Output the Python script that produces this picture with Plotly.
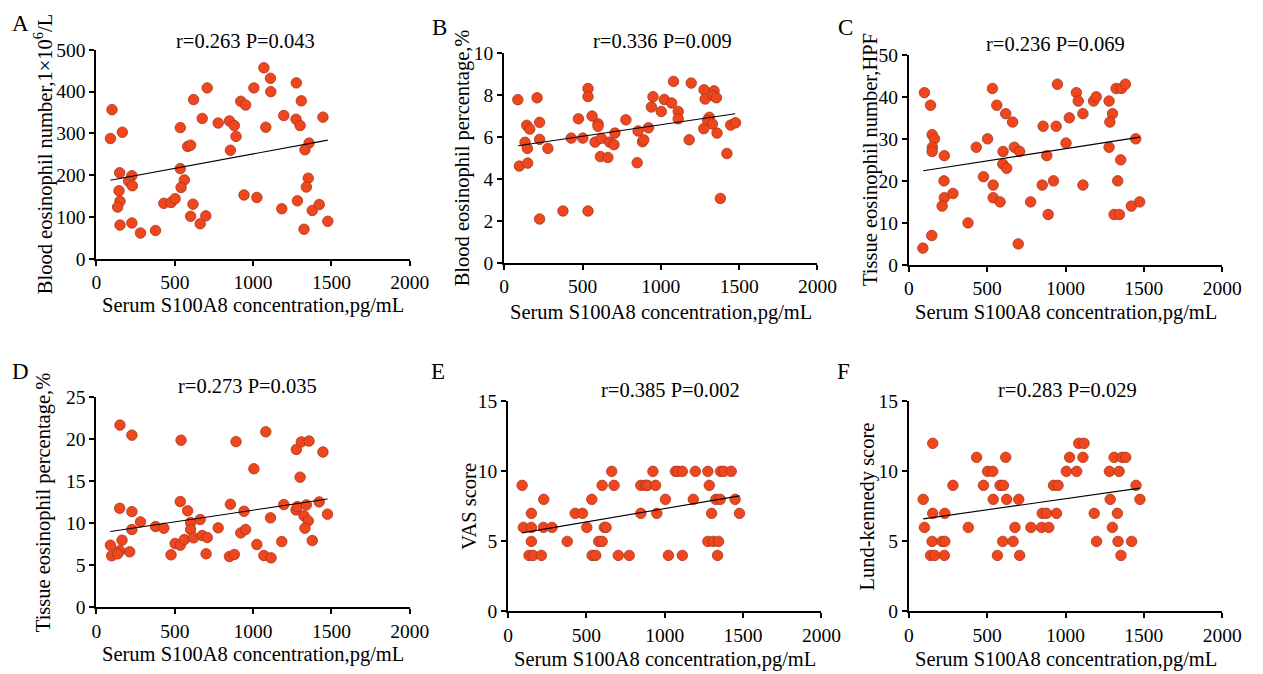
import plotly.graph_objects as go

# Panel A: blood eosinophil number
a_x = [99, 89, 165, 148, 144, 150, 135, 150, 226, 205, 229, 226, 281, 377, 430, 476, 502, 535, 535, 561,
       540, 582, 601, 620, 616, 601, 662, 675, 707, 698, 777, 849, 880, 891, 855, 921, 952, 942, 1005, 1024,
       1069, 1111, 1113, 1081, 1196, 1183, 1276, 1308, 1274, 1300, 1357, 1331, 1352, 1340, 1283, 1378, 1422,
       1325, 1446, 1477]
a_y = [357, 288, 303, 206, 163, 138, 124, 81, 199, 186, 175, 86, 62, 68, 133, 135, 144, 314, 216, 189,
       171, 269, 272, 381, 131, 102, 84, 336, 409, 103, 325, 330, 319, 293, 260, 377, 368, 153, 409, 147,
       457, 432, 400, 315, 343, 120, 421, 378, 334, 319, 277, 261, 193, 172, 139, 116, 130, 71, 339, 90]
a_fit_x = [89, 1477]
a_fit_y = [188, 284]

# Panel B: blood eosinophil percentage
b_x = [87, 97, 144, 163, 133, 148, 150, 210, 226, 226, 226, 279, 375, 428, 474, 502, 535, 535, 535, 561,
       580, 599, 599, 620, 614, 662, 673, 701, 707, 777, 849, 855, 883, 891, 921, 940, 950, 1003, 1022, 1069,
       1081, 1111, 1111, 1194, 1181, 1276, 1283, 1274, 1302, 1310, 1300, 1329, 1340, 1335, 1355, 1359, 1380,
       1422, 1446, 1477]
b_y = [7.77, 4.61, 6.55, 6.37, 5.74, 5.45, 4.75, 7.86, 6.69, 5.88, 2.09, 5.45, 2.47, 5.94, 6.86, 5.94,
       8.30, 7.92, 2.47, 6.99, 5.75, 6.62, 6.50, 5.93, 5.06, 5.02, 5.75, 5.63, 6.18, 6.81, 4.77, 6.28, 5.77,
       5.86, 6.43, 7.42, 7.91, 7.21, 7.78, 7.61, 8.64, 7.21, 6.86, 8.56, 5.86, 8.24, 7.80, 6.39, 6.83, 6.93,
       6.78, 6.61, 8.19, 7.96, 7.86, 6.18, 3.07, 5.21, 6.56, 6.67]
b_fit_x = [89, 1475]
b_fit_y = [5.58, 7.10]

# Panel C: tissue eosinophil number
c_x = [99, 89, 138, 148, 163, 150, 148, 146, 226, 224, 226, 212, 281, 377, 430, 476, 502, 533, 538, 538,
       561, 582, 601, 599, 618, 624, 662, 673, 707, 698, 777, 857, 851, 880, 889, 923, 940, 948, 1003, 1024,
       1069, 1081, 1111, 1111, 1179, 1196, 1278, 1300, 1283, 1278, 1323, 1357, 1382, 1333, 1352, 1310, 1344,
       1420, 1448, 1473]
c_y = [41, 4, 38, 31, 30, 28, 27, 7, 26, 20, 16, 14, 17, 10, 28, 21, 30, 42, 19, 16,
       38, 15, 27, 24, 36, 23, 34, 28, 27, 5, 15, 33, 19, 26, 12, 20, 33, 43, 29, 35,
       41, 39, 36, 19, 39, 40, 39, 36, 34, 28, 42, 42, 43, 20, 25, 12, 12, 14, 30, 15]
c_fit_x = [91, 1475]
c_fit_y = [22.4, 30.4]

# Panel D: tissue eosinophil percentage
d_x = [89, 97, 150, 148, 163, 148, 135, 226, 226, 226, 212, 281, 377, 430, 476, 502, 540, 535, 535, 561,
       582, 601, 601, 620, 662, 675, 707, 700, 777, 849, 880, 855, 891, 921, 952, 942, 1005, 1024, 1069, 1081,
       1111, 1115, 1196, 1183, 1276, 1308, 1357, 1300, 1274, 1283, 1340, 1325, 1352, 1331, 1378, 1422, 1446,
       1475]
d_y = [7.41, 6.14, 21.7, 11.8, 8.00, 6.74, 6.38, 20.5, 11.4, 9.27, 6.62, 10.18, 9.63, 9.43, 6.26, 7.61,
       19.9, 12.6, 7.41, 8.08, 11.5, 10.1, 9.27, 8.28, 10.46, 8.56, 8.32, 6.38, 9.47, 6.06, 6.30, 12.28,
       19.73, 8.87, 9.27, 11.45, 16.5, 7.49, 6.18, 20.9, 10.66, 5.90, 12.24, 7.84, 18.8, 19.7, 19.8, 15.5,
       11.6, 12.0, 12.2, 10.9, 10.3, 9.43, 7.96, 12.56, 18.5, 11.1]
d_fit_x = [89, 1475]
d_fit_y = [9.03, 12.9]

# Panel E: VAS score
e_x = [89, 97, 148, 148, 148, 133, 159, 227, 225, 212, 280, 377, 428, 475, 502, 534, 536, 559, 578, 600,
       600, 614, 625, 661, 676, 703, 773, 847, 847, 877, 890, 924, 941, 949, 1004, 1023, 1068, 1083, 1112,
       1112, 1182, 1195, 1275, 1284, 1275, 1299, 1309, 1326, 1354, 1343, 1337, 1356, 1377, 1424, 1449, 1477]
e_y = [9, 6, 7, 6, 5, 4, 4, 8, 6, 4, 6, 5, 7, 7, 6, 8, 4, 4, 5, 5,
       9, 6, 6, 10, 9, 4, 4, 9, 7, 9, 9, 10, 9, 7, 8, 4, 10, 10, 10,
       4, 8, 10, 10, 9, 5, 7, 5, 8, 8, 5, 4, 10, 10, 10, 8, 7]
e_fit_x = [89, 1477]
e_fit_y = [5.61, 8.25]

# Panel F: Lund-Kennedy score
f_x = [91, 99, 152, 152, 148, 138, 165, 229, 212, 229, 226, 281, 379, 432, 476, 502, 535, 538, 565, 582,
       603, 599, 618, 624, 665, 677, 701, 707, 779, 851, 847, 878, 893, 923, 952, 942, 1005, 1026, 1071,
       1084, 1118, 1111, 1183, 1198, 1280, 1285, 1310, 1299, 1331, 1342, 1335, 1354, 1361, 1384, 1422, 1450,
       1475]
f_y = [8, 6, 12, 7, 5, 4, 4, 7, 5, 5, 4, 9, 6, 11, 9, 10, 10, 8, 4, 9,
       9, 5, 11, 8, 5, 6, 8, 4, 6, 7, 6, 7, 6, 9, 9, 7, 10, 11, 10,
       12, 12, 11, 7, 5, 10, 8, 11, 6, 7, 10, 5, 4, 11, 11, 5, 9, 8]
f_fit_x = [91, 1475]
f_fit_y = [6.61, 8.8]

y_titles = ["Blood eosinophil number,1×10<sup>6</sup>/L", "Blood eosinophil percentage,%",
            "Tissue eosinophil number,HPF", "Tissue eosinophil percentage,%", "VAS score",
            "Lund-kennedy score"]
stats = ["r=0.263 P=0.043", "r=0.336 P=0.009", "r=0.236 P=0.069",
         "r=0.273 P=0.035", "r=0.385 P=0.002", "r=0.283 P=0.029"]
letters = ["A", "B", "C", "D", "E", "F"]
y_max = [500, 10, 50, 25, 15, 15]
y_step = [100, 2, 10, 5, 5, 5]

panels = [(a_x, a_y, a_fit_x, a_fit_y), (b_x, b_y, b_fit_x, b_fit_y), (c_x, c_y, c_fit_x, c_fit_y),
          (d_x, d_y, d_fit_x, d_fit_y), (e_x, e_y, e_fit_x, e_fit_y), (f_x, f_y, f_fit_x, f_fit_y)]

W, H = 1263, 674
FONT = "Liberation Serif, Times New Roman, serif"
# the photo of the page came out shifted and slightly shrunk; measured once with a test frame
OFF_X, OFF_Y = 3, 9
SX, SY = 0.9865, 0.973
# positions below are wanted picture pixels (left, right, top, bottom)
boxes = [(95, 410, 49, 259), (505, 820, 52, 263), (912, 1227, 54, 265),
         (95, 410, 398, 609), (509, 824, 402, 613), (912, 1227, 402, 613)]
stat_pos = [(245, 40), (664, 40), (1059, 43), (247, 387), (672, 391), (1071, 391)]
letter_pos = [(19, 23), (440, 27), (848, 27), (19, 372), (438, 372), (846, 372)]
x_title_y = [306, 313, 313, 656, 661, 661]
y_title_x = [42, 463, 874, 42, 470, 870]


def px(x):
    return (x - OFF_X) / SX / W


def py(y):
    return 1 - (y - OFF_Y) / SY / H


def text(s, x, y, size, angle=0):
    return dict(text=s, x=px(x), y=py(y), xref="paper", yref="paper", showarrow=False,
                xanchor="center", yanchor="middle", textangle=angle,
                font=dict(family=FONT, size=size, color="black"))


fig = go.Figure()
annotations = []
layout = {}
for i, (xs, ys, fx, fy) in enumerate(panels):
    n = "" if i == 0 else str(i + 1)
    fig.add_trace(go.Scatter(
        x=xs, y=ys, mode="markers", xaxis="x" + n, yaxis="y" + n,
        marker=dict(size=10.5, color="#F0461E", line=dict(color="#A8341A", width=0.8)),
        cliponaxis=False, showlegend=False))
    fig.add_trace(go.Scatter(
        x=fx, y=fy, mode="lines", xaxis="x" + n, yaxis="y" + n,
        line=dict(color="black", width=1.1), showlegend=False))

    l, r, t, b = boxes[i]
    axis_common = dict(showline=True, linecolor="black", linewidth=2, ticks="outside",
                       ticklen=5, tickwidth=2, tickcolor="black", showgrid=False, zeroline=False,
                       tickfont=dict(family=FONT, size=19.5, color="black"))
    layout["xaxis" + n] = dict(domain=[px(l), px(r)], range=[0, 2000], dtick=500, tick0=0,
                               anchor="y" + n, **axis_common)
    layout["yaxis" + n] = dict(domain=[py(b), py(t)], range=[0, y_max[i]], dtick=y_step[i],
                               tick0=0, anchor="x" + n, **axis_common)

    annotations.append(text(stats[i], *stat_pos[i], 20.5))
    annotations.append(text(letters[i], *letter_pos[i], 23))
    annotations.append(text("Serum S100A8 concentration,pg/mL", (l + r) / 2, x_title_y[i], 20.5))
    annotations.append(text(y_titles[i], y_title_x[i], (t + b) / 2, 20.5, angle=-90))

fig.update_layout(width=W, height=H, margin=dict(l=0, r=0, t=0, b=0),
                  plot_bgcolor="white", paper_bgcolor="white",
                  annotations=annotations, **layout)

fig.write_html("out.html", post_script="document.body.style.margin='0';",
               config={"displayModeBar": False})
